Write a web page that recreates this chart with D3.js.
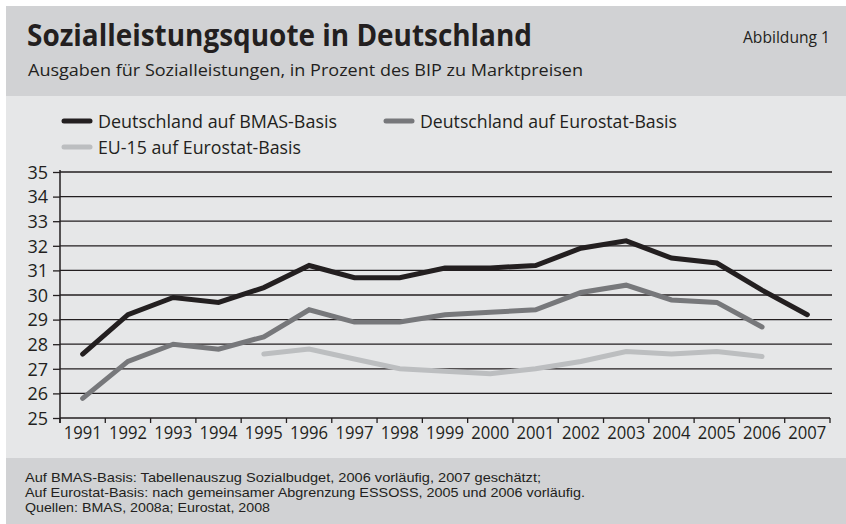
<!DOCTYPE html>
<html>
<head>
<meta charset="utf-8">
<script src="https://cdn.jsdelivr.net/npm/d3@7"></script>
<style>
  body { margin: 0; background: #fff; }
  text { font-family: "Open Sans", "Noto Sans", sans-serif; fill: #231f20; }
</style>
</head>
<body>
<div id="chart"></div>
<script>
// chart data
const years = [1991, 1992, 1993, 1994, 1995, 1996, 1997, 1998, 1999, 2000, 2001, 2002, 2003, 2004, 2005, 2006, 2007];
const bmas = [27.6, 29.2, 29.9, 29.7, 30.3, 31.2, 30.7, 30.7, 31.1, 31.1, 31.2, 31.9, 32.2, 31.5, 31.3, 30.2, 29.2];
const eurostatDE = [25.8, 27.3, 28.0, 27.8, 28.3, 29.4, 28.9, 28.9, 29.2, 29.3, 29.4, 30.1, 30.4, 29.8, 29.7, 28.7, null];
const eu15 = [null, null, null, null, 27.6, 27.8, 27.4, 27.0, 26.9, 26.8, 27.0, 27.3, 27.7, 27.6, 27.7, 27.5, null];
const yTicks = [25, 26, 27, 28, 29, 30, 31, 32, 33, 34, 35];

const seriesNames = ["Deutschland auf BMAS-Basis", "Deutschland auf Eurostat-Basis", "EU-15 auf Eurostat-Basis"];
const seriesColors = ["#231f20", "#77787b", "#bcbec0"];

const footnotes = [
  "Auf BMAS-Basis: Tabellenauszug Sozialbudget, 2006 vorläufig, 2007 geschätzt;",
  "Auf Eurostat-Basis: nach gemeinsamer Abgrenzung ESSOSS, 2005 und 2006 vorläufig.",
  "Quellen: BMAS, 2008a; Eurostat, 2008"
];

const WIDTH = 846;
const HEIGHT = 524;

const svg = d3.select("#chart")
  .append("svg")
    .attr("width", WIDTH)
    .attr("height", HEIGHT);

// squeeze / stretch a text to the width seen in the original
function fit(sel, w) {
  sel.each(function() {
    const len = this.getComputedTextLength();
    if (Math.abs(len - w) > 1) {
      d3.select(this).attr("textLength", w).attr("lengthAdjust", "spacingAndGlyphs");
    }
  });
}

// background panels
svg.append("rect").attr("x", 6).attr("y", 6).attr("width", WIDTH - 6).attr("height", 90).attr("fill", "#d1d2d4");
svg.append("rect").attr("x", 6).attr("y", 96).attr("width", WIDTH - 6).attr("height", 362).attr("fill", "#e6e7e8");
svg.append("rect").attr("x", 6).attr("y", 458).attr("width", WIDTH - 6).attr("height", HEIGHT - 458).attr("fill", "#d1d2d4");

// header
svg.append("text")
  .attr("x", 27).attr("y", 46)
  .attr("font-size", 30).attr("font-weight", "bold")
  .text("Sozialleistungsquote in Deutschland")
  .call(fit, 505);

svg.append("text")
  .attr("x", 28).attr("y", 76)
  .attr("font-size", 17)
  .text("Ausgaben für Sozialleistungen, in Prozent des BIP zu Marktpreisen")
  .call(fit, 555);

svg.append("text")
  .attr("x", 743).attr("y", 43)
  .attr("font-size", 16)
  .text("Abbildung 1")
  .call(fit, 87);

// scales
const x = d3.scaleBand().domain(years).range([60, 830]);
const y = d3.scaleLinear().domain([25, 35]).range([418, 172]);

// gridlines
svg.append("g")
  .selectAll("line")
  .data(yTicks.slice(1))
  .join("line")
    .attr("x1", 60).attr("x2", 832)
    .attr("y1", d => y(d)).attr("y2", d => y(d))
    .attr("stroke", "#231f20")
    .attr("stroke-width", 1.3);

// y axis
const yAxis = svg.append("g")
  .attr("transform", "translate(60,0)")
  .call(d3.axisLeft(y).tickValues(yTicks).tickSize(7).tickSizeOuter(0).tickPadding(5));
yAxis.select(".domain").remove();
yAxis.selectAll(".tick line").attr("stroke", "#231f20").attr("stroke-width", 1.3);
yAxis.selectAll("text")
  .attr("font-size", 18)
  .attr("fill", "#231f20")
  .attr("dy", "0.35em")
  .call(fit, 21);

svg.append("line")
  .attr("x1", 60).attr("x2", 60)
  .attr("y1", y(35) - 2).attr("y2", y(25) + 5)
  .attr("stroke", "#231f20").attr("stroke-width", 1.5);

// x axis
const xAxis = svg.append("g")
  .attr("transform", "translate(0," + y(25) + ")")
  .call(d3.axisBottom(x).tickSize(0).tickPadding(8));
xAxis.select(".domain").remove();
xAxis.selectAll("text")
  .attr("font-size", 18)
  .attr("fill", "#231f20")
  .attr("dy", "0.71em")
  .call(fit, 38);

svg.append("line")
  .attr("x1", 60).attr("x2", 830)
  .attr("y1", y(25)).attr("y2", y(25))
  .attr("stroke", "#231f20").attr("stroke-width", 1.5);

svg.append("g")
  .selectAll("line")
  .data(years.map(d => x(d)).concat([x.range()[1]]))
  .join("line")
    .attr("x1", d => d).attr("x2", d => d)
    .attr("y1", y(25)).attr("y2", y(25) + 5)
    .attr("stroke", "#231f20").attr("stroke-width", 1.3);

// lines
const line = d3.line()
  .defined(d => d.v != null)
  .x(d => x(d.year) + x.bandwidth() / 2)
  .y(d => y(d.v));

[bmas, eurostatDE, eu15].forEach((vals, i) => {
  const pts = years.map((yr, j) => ({ year: yr, v: vals[j] }));
  svg.append("path")
    .datum(pts)
    .attr("d", line)
    .attr("fill", "none")
    .attr("stroke", seriesColors[i])
    .attr("stroke-width", 5)
    .attr("stroke-linejoin", "miter")
    .attr("stroke-linecap", "round");
});

// legend
const legendPos = [[62, 121, 337], [384, 121, 677], [62, 147, 301]];
seriesNames.forEach((name, i) => {
  const p = legendPos[i];
  svg.append("line")
    .attr("x1", p[0] + 2).attr("x2", p[0] + 28)
    .attr("y1", p[1]).attr("y2", p[1])
    .attr("stroke", seriesColors[i])
    .attr("stroke-width", 5)
    .attr("stroke-linecap", "round");
  svg.append("text")
    .attr("x", p[0] + 36).attr("y", p[1] + 7)
    .attr("font-size", 19)
    .text(name)
    .call(fit, p[2] - p[0] - 36);
});

// footer - style() so the css rule doesn't win; tighter font keeps lines apart
const footWidths = [516, 560, 245];
footnotes.forEach((t, i) => {
  svg.append("text")
    .attr("x", 25).attr("y", 482 + i * 14.8)
    .attr("font-size", 12.8)
    .style("font-family", "'Liberation Sans', Arial, sans-serif")
    .text(t)
    .call(fit, footWidths[i]);
});
</script>
</body>
</html>
